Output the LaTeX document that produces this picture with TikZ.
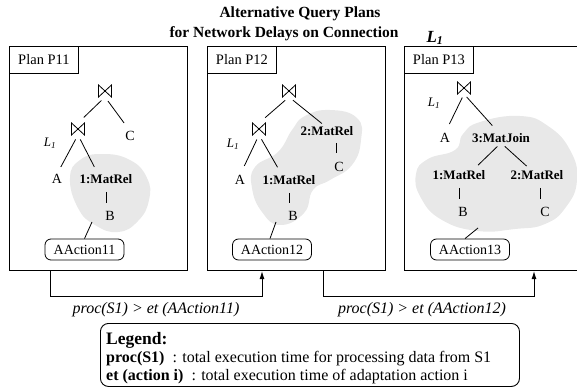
\documentclass[tikz,border=0pt]{standalone}
\usepackage{fontspec}
\setmainfont{Liberation Serif}
\usetikzlibrary{arrows.meta,calc}

\newcommand\fsz[1]{\fontsize{#1}{#1}\selectfont}
% draws the join symbol inside an empty node
\newcommand\joindraw[1]{\draw[edge] (#1.north west) -- (#1.south west) -- (#1.north east) -- (#1.south east) -- cycle;}

\begin{document}
\begin{tikzpicture}[x=1pt,y=-1pt,
  panel/.style={draw, line width=1.1pt, anchor=north west, minimum width=178pt, minimum height=224pt, inner sep=0},
  plabel/.style={draw, line width=0.9pt, anchor=north west, minimum width=69pt, minimum height=27pt, inner sep=0, font=\fsz{14.5}},
  joinsym/.style={minimum width=13pt, minimum height=12pt, inner sep=0, outer sep=0},
  leaf/.style={font=\fsz{14}, inner sep=0, text height=9.5pt, text depth=0pt},
  mat/.style={font=\bfseries\fsz{13}, inner sep=0, text height=9.5pt, text depth=0pt},
  lnk/.style={font=\itshape\fsz{13}, inner sep=0},
  act/.style={draw, line width=0.8pt, rounded corners=6pt, minimum width=79pt, minimum height=21pt, inner sep=0, font=\fsz{14}},
  edge/.style={line width=0.8pt},
  tedge/.style={edge, shorten <=5pt, shorten >=8pt},
  blob/.style={fill=gray!18},
  flow/.style={line width=0.9pt, -{Latex[length=8pt,width=5pt]}},
  cond/.style={font=\itshape\fsz{16}},
  title/.style={font=\bfseries\fsz{15.5}}
]
\useasboundingbox (0,0) rectangle (577,387);
\clip (0,0) rectangle (577,387);

% title
\node[title] (t1) at (300,14) {Alternative Query Plans};
\node[title, anchor=west] (t2) at (166,34) {for Network Delays on Connection};
\node[font=\bfseries\itshape\fsz{17}] (tl) at (435,38) {L\textsubscript{1}};

% the three plan panels
\node[panel] (p1) at (9,46) {};
\node[panel] (p2) at (207,46) {};
\node[panel] (p3) at (404,46) {};
\node[plabel] (p1l) at (p1.north west) {Plan P11};
\node[plabel] (p2l) at (p2.north west) {Plan P12};
\node[plabel] (p3l) at (p3.north west) {Plan P13};

% materialized regions
\fill[blob] plot[smooth cycle, tension=0.8] coordinates {(70,178) (80,160) (102,154) (130,160) (147,178) (149,200) (138,221) (118,232) (95,225) (78,208)};
\fill[blob] plot[smooth cycle, tension=0.8] coordinates {(255,167) (278,152) (292,130) (305,116) (330,110) (357,118) (361,140) (352,165) (330,180) (313,190) (304,213) (280,225) (262,212) (252,188)};
\fill[blob] plot[smooth cycle, tension=0.8] coordinates {(463,134) (480,122) (520,116) (548,126) (570,150) (577,180) (566,207) (545,224) (515,229) (478,231) (442,220) (421,198) (416,174) (428,159) (455,150)};

% ---- Plan P11
\node[joinsym] (a-j1) at (105,91) {};
\node[joinsym] (a-j2) at (78,129) {};
\joindraw{a-j1}
\joindraw{a-j2}
\node[leaf] (a-c) at (130,136) {C};
\node[lnk] (a-l) at (50,143) {L\textsubscript{1}};
\node[leaf] (a-a) at (57,179) {A};
\node[mat] (a-m1) at (106,179) {1:MatRel};
\node[leaf] (a-b) at (110,216) {B};
\node[act] (a-act) at (84.5,249.5) {AAction11};
\coordinate (a-s) at (92,222);
\draw[tedge] (a-j1.south) -- (a-j2.north);
\draw[tedge, shorten >=10pt] (a-j1.south) -- (a-c.north);
\draw[tedge] (a-j2.south) -- (a-a.north);
\draw[tedge] (a-j2.south) -- ([xshift=-8pt]a-m1.north);
\draw[edge, shorten <=8pt, shorten >=8pt] (a-m1.south) -- (a-m1.south |- a-b.north);
\draw[edge] (a-s) -- (a-act.north);

% ---- Plan P12
\node[joinsym] (b-j1) at (289,91) {};
\node[joinsym] (b-j2) at (259,129) {};
\joindraw{b-j1}
\joindraw{b-j2}
\node[mat] (b-m2) at (327,131) {2:MatRel};
\node[leaf] (b-c) at (339,167) {C};
\node[lnk] (b-l) at (233,144) {L\textsubscript{1}};
\node[leaf] (b-a) at (240,180) {A};
\node[mat] (b-m1) at (289,180) {1:MatRel};
\node[leaf] (b-b) at (293,216) {B};
\node[act] (b-act) at (272,249.5) {AAction12};
\coordinate (b-s) at (276,222);
\draw[tedge] (b-j1.south) -- (b-j2.north);
\draw[tedge, shorten >=4pt] (b-j1.south) -- ([xshift=-2pt]b-m2.north);
\draw[tedge, shorten >=10pt] (b-j2.south) -- (b-a.north);
\draw[tedge, shorten >=9pt] (b-j2.south) -- ([xshift=-7pt]b-m1.north);
\draw[edge, shorten <=7pt, shorten >=9pt] ([xshift=9pt]b-m2.south) -- ([xshift=9pt]b-m2.south |- b-c.north);
\draw[edge, shorten <=8pt, shorten >=8pt] (b-m1.south) -- (b-m1.south |- b-b.north);
\draw[edge] (b-s) -- ([xshift=-2pt]b-act.north);

% ---- Plan P13
\node[joinsym] (c-j) at (464,88) {};
\joindraw{c-j}
\node[lnk] (c-l) at (434,103) {L\textsubscript{1}};
\node[leaf] (c-a) at (445,138) {A};
\node[mat] (c-m3) at (501,138) {3:MatJoin};
\node[mat] (c-m1) at (459,175) {1:MatRel};
\node[mat] (c-m2) at (537,175) {2:MatRel};
\node[leaf] (c-b) at (463,212) {B};
\node[leaf] (c-c) at (545,212) {C};
\node[act] (c-act) at (470,249.5) {AAction13};
\coordinate (c-s) at (478,228);
\draw[tedge, shorten <=4pt, shorten >=10pt] (c-j.south) -- (c-a.north);
\draw[tedge, shorten <=4pt, shorten >=10pt] (c-j.south) -- ([xshift=-2pt]c-m3.north);
\draw[tedge, shorten >=7pt] (c-m3.south) -- ([xshift=14pt]c-m1.north);
\draw[tedge, shorten >=6pt] (c-m3.south) -- ([xshift=-6pt]c-m2.north);
\draw[edge, shorten <=8pt, shorten >=8pt] (c-m1.south) -- (c-m1.south |- c-b.north);
\draw[edge, shorten <=8pt, shorten >=8pt] ([xshift=3pt]c-m2.south) -- ([xshift=3pt]c-m2.south |- c-c.north);
\draw[edge] (c-s) -- ([xshift=-5pt]c-act.north);

% transitions between plans
\draw[flow] ([xshift=41pt]p1.south west) -- ++(0,25) -| ([xshift=55pt]p2.south west);
\draw[flow] ([xshift=116pt]p2.south west) -- ++(0,25) -| ([xshift=130pt]p3.south west);
\node[cond] (k1) at (156,310) {proc(S1) > et (AAction11)};
\node[cond] (k2) at (422,310) {proc(S1) > et (AAction12)};

% legend
\node[draw, line width=0.9pt, rounded corners=8pt, anchor=north west, minimum width=419pt, minimum height=63pt, inner sep=0] (lg) at (100,323) {};
\node[anchor=west, font=\bfseries\fsz{17.5}, inner sep=0] (lg1) at (106,340) {Legend:};
\node[anchor=west, font=\fsz{16}, inner sep=0] (lg2) at (106,359) {\textbf{proc(S1)}\ \ : total execution time for processing data from S1};
\node[anchor=west, font=\fsz{16}, inner sep=0] (lg3) at (106,377) {\textbf{et (action i)}\ \ : total execution time of adaptation action i};
\end{tikzpicture}
\end{document}
